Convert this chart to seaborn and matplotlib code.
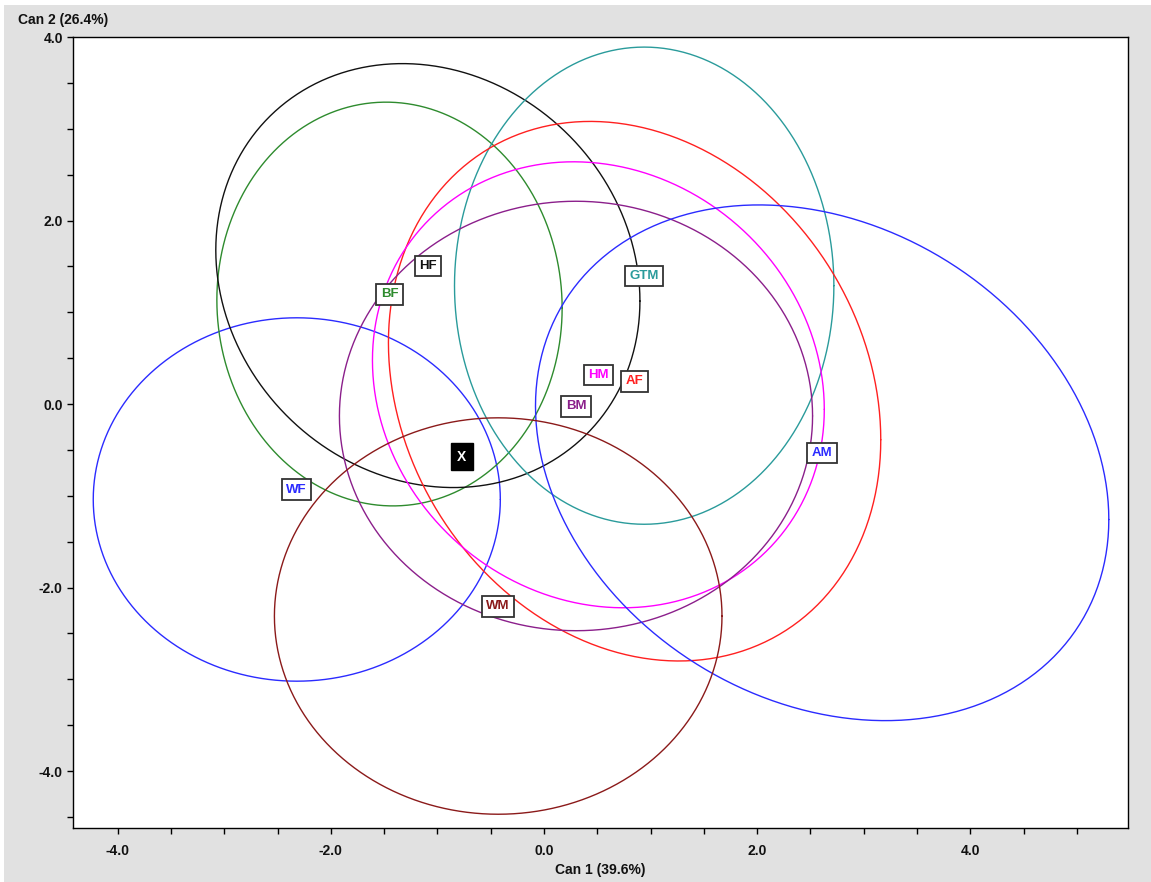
import numpy as np
import pandas as pd
import matplotlib
matplotlib.use("Agg")
import matplotlib.pyplot as plt
from matplotlib.ticker import MultipleLocator, FormatStrFormatter
from matplotlib.patches import Rectangle
import seaborn as sns

# ---- data ----
groups = ["WF", "BF", "HF", "GTM", "AF", "HM", "BM", "AM", "WM"]
mean_x = [-2.32, -1.45, -1.09, 0.94, 0.85, 0.51, 0.30, 2.61, -0.43]
mean_y = [-1.04, 1.09, 1.40, 1.29, 0.14, 0.21, -0.13, -0.64, -2.31]
half_x = [1.91, 1.62, 1.99, 1.78, 2.31, 2.12, 2.22, 2.69, 2.10]
half_y = [1.98, 2.20, 2.31, 2.60, 2.94, 2.43, 2.34, 2.81, 2.16]
corr = [0.0, -0.02, -0.12, 0.0, -0.18, -0.11, 0.0, -0.22, 0.0]
colors = ["#2b2bff", "#2e8b2e", "#111111", "#2a9b9b", "#ff2020",
          "#ff00ff", "#8b1f8b", "#2b2bff", "#8b1a1a"]
unknown_label = "X"
unknown_x, unknown_y = -0.77, -0.68
x_title = "Can 1 (39.6%)"
y_title = "Can 2 (26.4%)"

# ---- style ----
sns.set_style("ticks")
plt.rcParams["font.family"] = ["Liberation Sans", "DejaVu Sans"]
plt.rcParams["axes.unicode_minus"] = False

W, H = 1151, 882
fig = plt.figure(figsize=(W / 100, H / 100), dpi=100, facecolor="white")
fig.patches.append(Rectangle((4 / W, 0), 1, 1 - 5 / H, transform=fig.transFigure,
                             facecolor="#e1e1e1", edgecolor="none", zorder=-10))
ax = fig.add_axes([73 / W, 1 - 828 / H, (1128 - 73) / W, (828 - 37) / H])
ax.set_facecolor("white")

# ellipse outlines built from the group summaries
t = np.linspace(0, 2 * np.pi, 361)
rows = []
for g, mx, my, sx, sy, r in zip(groups, mean_x, mean_y, half_x, half_y, corr):
    cov = np.array([[sx ** 2, r * sx * sy], [r * sx * sy, sy ** 2]])
    L = np.linalg.cholesky(cov)
    pts = L @ np.vstack([np.cos(t), np.sin(t)])
    for i in range(len(t)):
        rows.append((g, i, mx + pts[0, i], my + pts[1, i]))
df = pd.DataFrame(rows, columns=["group", "order", "x", "y"])
palette = dict(zip(groups, colors))
sns.lineplot(data=df, x="x", y="y", hue="group", palette=palette, sort=False,
             estimator=None, units="group", legend=False, linewidth=1.0, ax=ax)

# group labels
for g, mx, my, c in zip(groups, mean_x, mean_y, colors):
    ax.annotate(g, (mx, my), xytext=(0, 7), textcoords="offset points",
                ha="center", va="center", fontsize=9.5, fontweight="bold", color=c,
                bbox=dict(boxstyle="square,pad=0.33", fc="white", ec="#333333", lw=1.3),
                zorder=5)
ax.annotate(unknown_label, (unknown_x, unknown_y), xytext=(0, 7), textcoords="offset points",
            ha="center", va="center", fontsize=10, fontweight="bold", color="white",
            bbox=dict(boxstyle="square,pad=0.45", fc="black", ec="black", lw=1), zorder=6)

ax.set_xlim(-4.42, 5.48)
ax.set_ylim(-4.62, 4.0)
ax.xaxis.set_major_locator(MultipleLocator(2.0))
ax.xaxis.set_minor_locator(MultipleLocator(0.5))
ax.yaxis.set_major_locator(MultipleLocator(2.0))
ax.yaxis.set_minor_locator(MultipleLocator(0.5))
ax.xaxis.set_major_formatter(FormatStrFormatter("%.1f"))
ax.yaxis.set_major_formatter(FormatStrFormatter("%.1f"))
ax.tick_params(which="both", direction="out", length=4.3, width=1, color="black")
ax.tick_params(axis="x", which="major", pad=7, labelsize=10)
ax.tick_params(axis="y", which="major", pad=3, labelsize=10)
for lab in ax.get_xticklabels() + ax.get_yticklabels():
    lab.set_fontweight("bold")
    lab.set_color("#111111")
for sp in ax.spines.values():
    sp.set_visible(True)
    sp.set_color("black")
    sp.set_linewidth(1.0)
ax.set_xlabel("")
ax.set_ylabel("")

fig.text(18 / W, 1 - 20 / H, y_title, ha="left", va="center", fontsize=10,
         fontweight="bold", color="#111111")
fig.text(600 / W, 1 - 870 / H, x_title, ha="center", va="center", fontsize=10,
         fontweight="bold", color="#111111")

fig.savefig("out.png", dpi=100, facecolor=fig.get_facecolor())
